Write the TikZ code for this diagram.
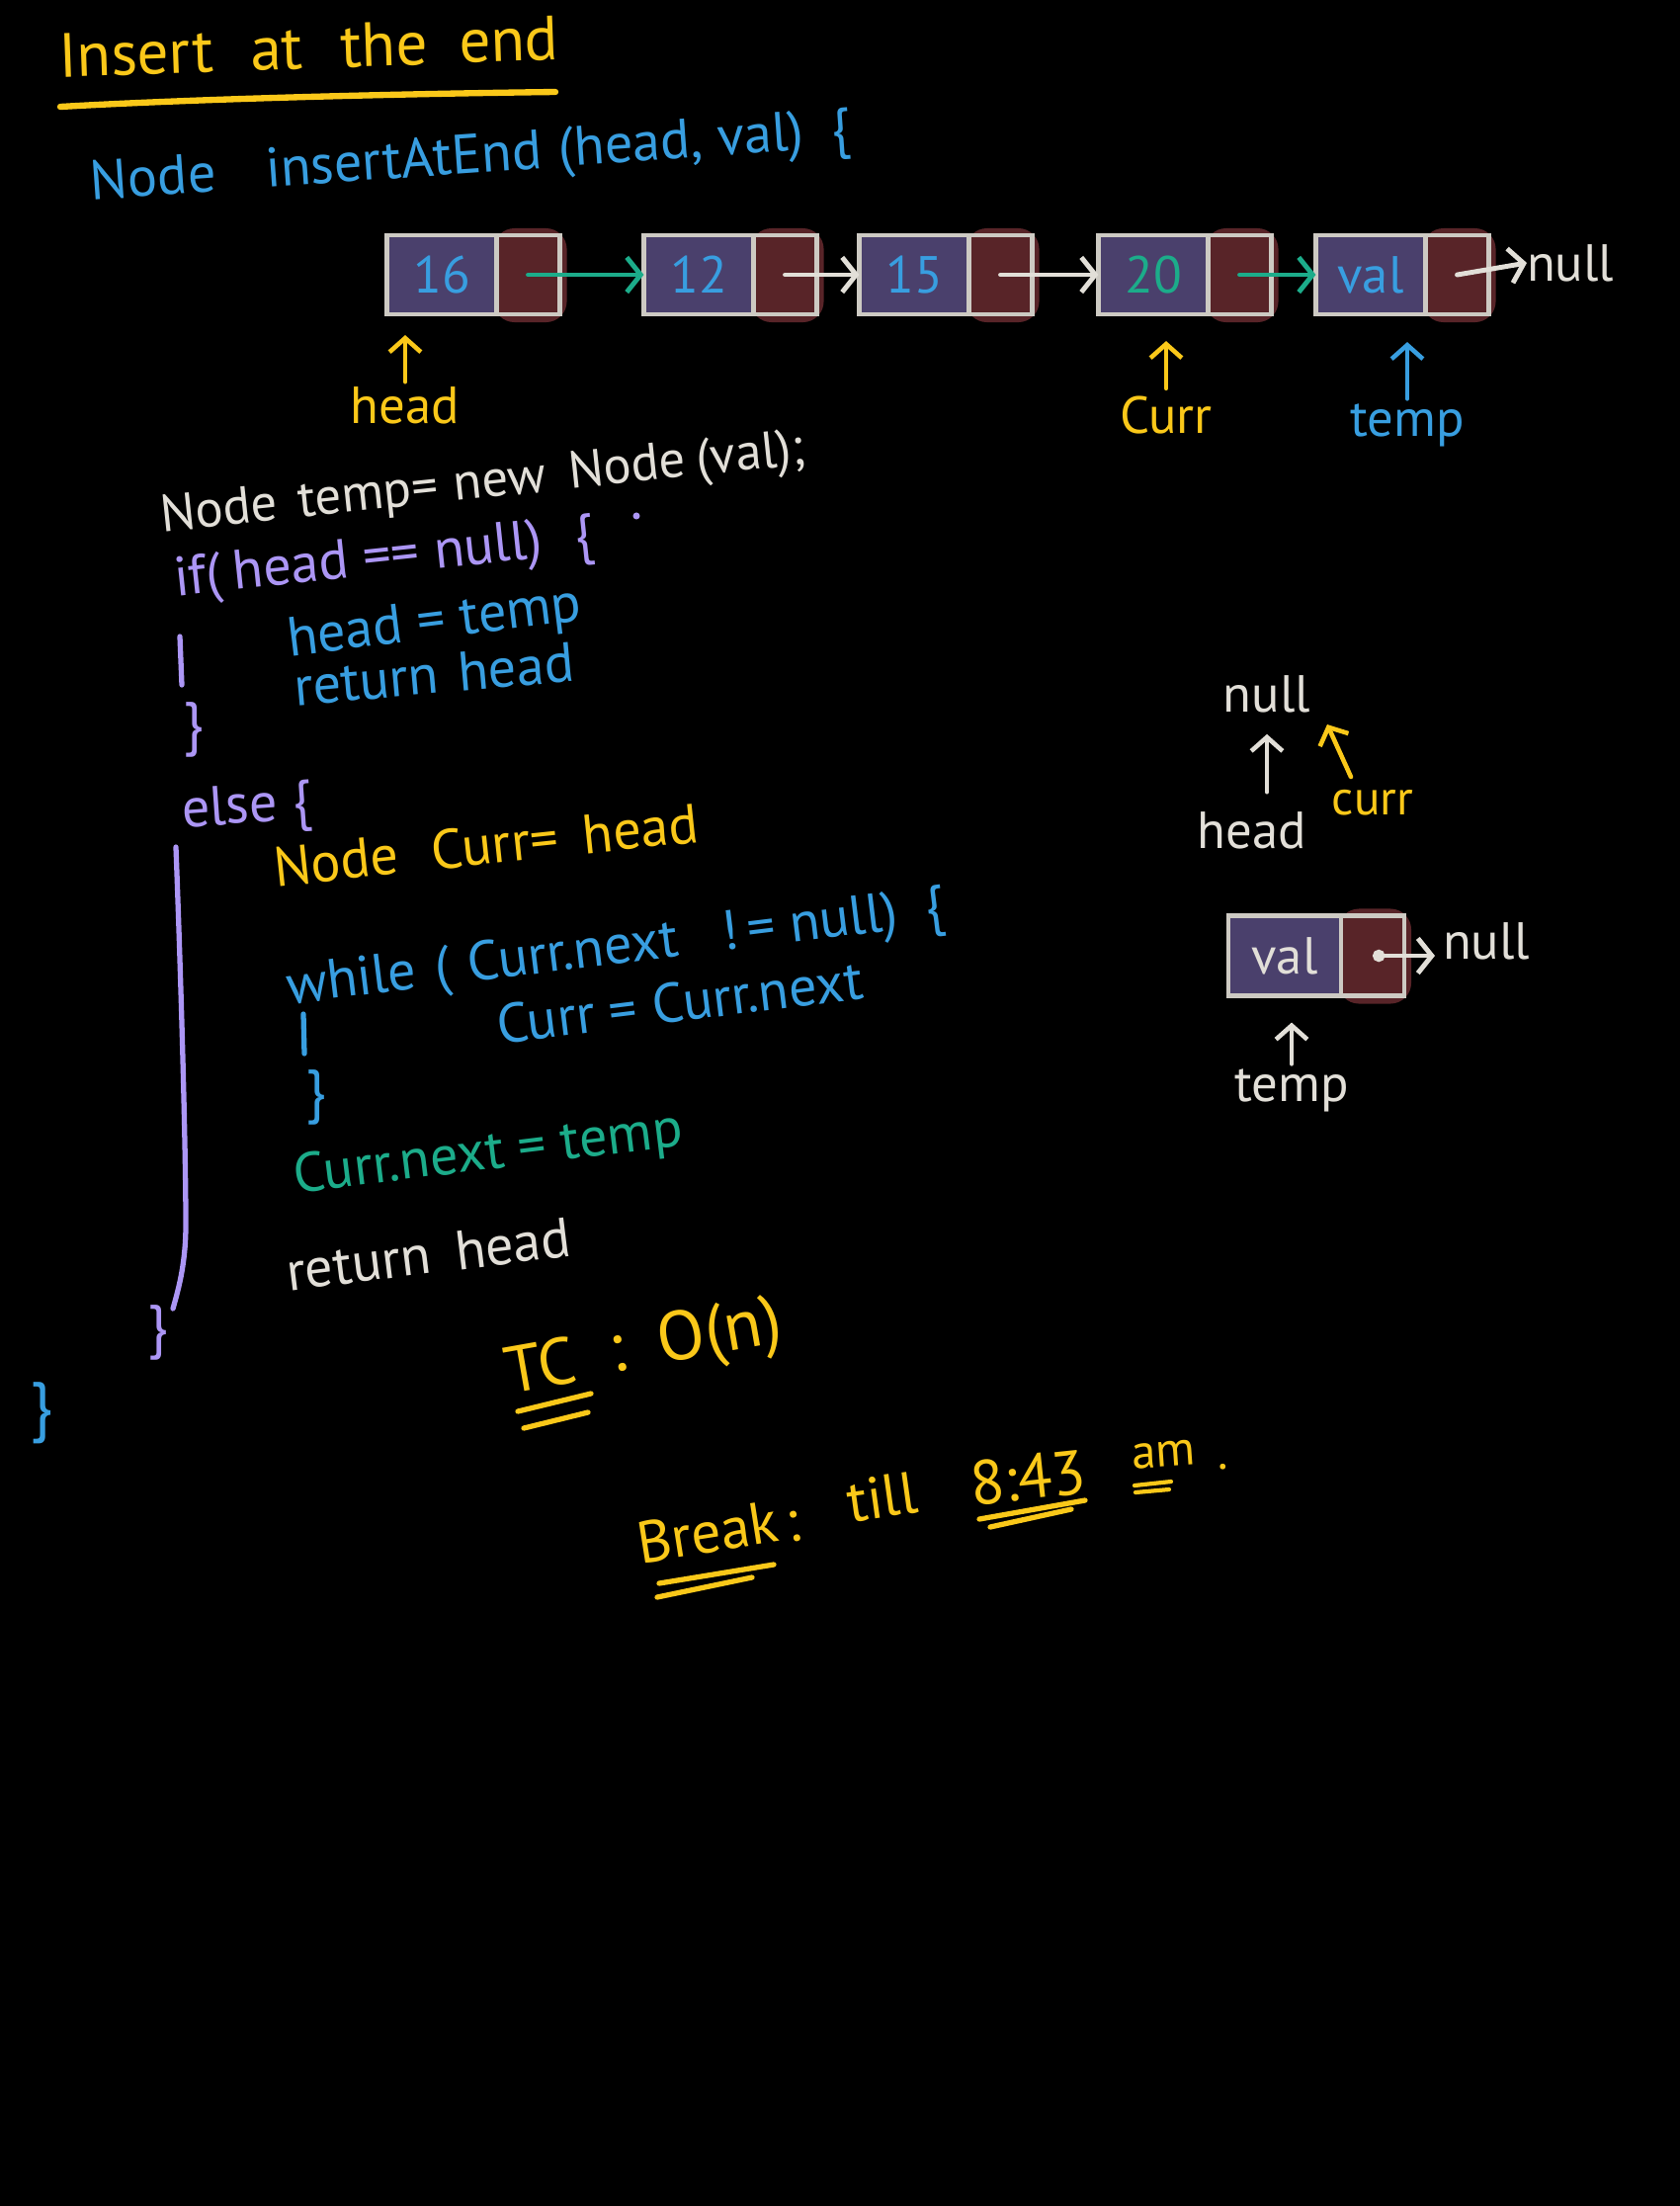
\documentclass[tikz,border=0pt]{standalone}
\usepackage{fontspec}
\setmainfont{PT Sans}
\usetikzlibrary{arrows.meta,calc,backgrounds}
\definecolor{hwyellow}{RGB}{250,200,25}
\definecolor{hwblue}{RGB}{56,158,224}
\definecolor{hwpurple}{RGB}{172,150,245}
\definecolor{hwgreen}{RGB}{28,172,138}
\definecolor{hwwhite}{RGB}{226,223,216}
\definecolor{valfill}{RGB}{74,64,108}
\definecolor{ptrfill}{RGB}{88,36,40}
\definecolor{boxline}{RGB}{205,202,195}
\tikzset{
  txt/.style={inner sep=0pt, outer sep=0pt},
  codeline/.style={txt, anchor=base west, font=\fontsize{16}{19}\selectfont},
  lbl/.style={txt, font=\fontsize{15}{18}\selectfont},
  brace/.style={txt, font=\fontsize{17}{20}\selectfont},
  valcell/.style={draw=boxline, line width=1.2pt, fill=valfill, minimum width=1.11cm, minimum height=0.8cm, inner sep=0pt, outer sep=0pt, font=\fontsize{15}{18}\selectfont},
  ptrcell/.style={draw=boxline, line width=1.2pt, fill=ptrfill, minimum width=0.64cm, minimum height=0.8cm, inner sep=0pt, outer sep=0pt, anchor=west},
  blob/.style={fill=ptrfill, rounded corners=6pt},
  link/.style={line width=1.4pt, line cap=round, -{Straight Barb[length=4pt,width=10pt]}},
  dotlink/.style={line width=1.4pt, line cap=round, {Circle[length=3.5pt]}-{Straight Barb[length=4pt,width=10pt]}},
  ptrarrow/.style={line width=1.3pt, line cap=round, -{Straight Barb[length=4pt,width=9pt]}},
  stroke/.style={line width=1.5pt, line cap=round, line join=round},
}
\begin{document}
\begin{tikzpicture}[x=0.01cm,y=-0.01cm]
\begin{scope}[on background layer]
\fill[black] (0,0) rectangle (1700,2232);
\end{scope}
\useasboundingbox (0,0) rectangle (1700,2232);

% title
\node[codeline, text=hwyellow, rotate=2, font=\fontsize{18}{21}\selectfont] (title) at (60,78) {Insert\hspace{0.6em}at\hspace{0.6em}the\hspace{0.5em}end};
\draw[stroke, hwyellow, line width=1.8pt] (61,108) .. controls (200,100) and (400,95) .. (562,93);

% signature
\node[codeline, text=hwblue, rotate=4] (sig) at (93,202) {Node\hspace{0.9em}insertAtEnd\hspace{0.3em}(head, val)\hspace{0.5em}\{};

% linked list
\node[valcell, text=hwblue] (v1) at (447,278) {16};
\node[ptrcell] (p1) at (v1.east) {};
\node[valcell, text=hwblue] (v2) at (707,278) {12};
\node[ptrcell] (p2) at (v2.east) {};
\node[valcell, text=hwblue] (v3) at (925,278) {15};
\node[ptrcell] (p3) at (v3.east) {};
\node[valcell, text=hwgreen] (v4) at (1167,278) {20};
\node[ptrcell] (p4) at (v4.east) {};
\node[valcell, text=hwblue] (v5) at (1387,278) {val};
\node[ptrcell] (p5) at (v5.east) {};
\node[lbl, text=hwwhite, anchor=west] (n1) at (1545,266) {null};
\begin{scope}[on background layer]
\foreach \p in {p1,p2,p3,p4,p5}{
  \fill[blob] ($(\p.north west)+(-3,-7)$) rectangle ($(\p.south east)+(7,8)$);
}
\end{scope}
\draw[link, hwgreen] (p1.center) -- (v2.west);
\draw[link, hwwhite] (p2.center) -- (v3.west);
\draw[link, hwwhite] (p3.center) -- (v4.west);
\draw[link, hwgreen] (p4.center) -- (v5.west);
\draw[link, hwwhite] (p5.center) -- (n1.west);

\node[lbl, text=hwyellow] (h1) at (410,410) {head};
\draw[ptrarrow, hwyellow, shorten >=0.21cm, shorten <=0.05cm] (h1.north) -- (h1.north |- v1.south);
\node[lbl, text=hwyellow] (c1) at (1180,420) {Curr};
\draw[ptrarrow, hwyellow, shorten >=0.27cm, shorten <=0.08cm] (c1.north) -- (c1.north |- v4.south);
\node[lbl, text=hwblue] (t1) at (1424,430) {temp};
\draw[ptrarrow, hwblue, shorten >=0.28cm, shorten <=0.05cm] (t1.north) -- (t1.north |- v5.south);

% code
\node[codeline, text=hwwhite, rotate=6, font=\fontsize{15}{18}\selectfont] (l2) at (164,538) {Node\hspace{0.4em}temp=\hspace{0.3em}new\hspace{0.45em}Node\hspace{0.2em}(val);};
\node[codeline, text=hwpurple, rotate=6] (l3) at (178,603) {if(\hspace{0.2em}head == null)\hspace{0.6em}\{};
\fill[hwpurple] (644,522) circle (1pt);
\node[codeline, text=hwblue, rotate=7] (l4) at (293,664) {head = temp};
\node[codeline, text=hwblue, rotate=5] (l5) at (299,714) {return\hspace{0.35em}head};
\draw[stroke, hwpurple] (182,644) -- (184,693);
\node[brace, text=hwpurple] (b1) at (196,738) {\}};
\node[codeline, text=hwpurple, rotate=4] (l6) at (185,837) {else \{};
\draw[stroke, hwpurple] (178,857) .. controls (182,960) and (188,1150) .. (188,1239) .. controls (188,1275) and (182,1300) .. (175,1324);
\node[codeline, text=hwyellow, rotate=6] (l7) at (279,897) {Node\hspace{0.6em}Curr=\hspace{0.45em}head};
\node[codeline, text=hwblue, rotate=7] (l8) at (292,1016) {while\hspace{0.35em}(\hspace{0.3em}Curr.next\hspace{0.8em}!\hspace{0.15em}= null)\hspace{0.5em}\{};
\draw[stroke, hwblue] (307,1026) -- (308,1066);
\node[codeline, text=hwblue, rotate=7] (l9) at (505,1056) {Curr = Curr.next};
\node[brace, text=hwblue] (b2) at (320,1110) {\}};
\node[codeline, text=hwgreen, rotate=7] (l10) at (299,1207) {Curr.next = temp};
\node[codeline, text=hwwhite, rotate=7] (l11) at (292,1306) {return\hspace{0.45em}head};
\node[brace, text=hwpurple] (b3) at (160,1348) {\}};
\node[brace, text=hwblue, font=\fontsize{19}{22}\selectfont] (b4) at (42,1430) {\}};

% complexity
\node[codeline, text=hwyellow, rotate=10, font=\fontsize{19}{22}\selectfont] (tc) at (515,1410) {TC};
\node[codeline, text=hwyellow, rotate=10, font=\fontsize{20}{23}\selectfont] (on) at (620,1388) {:\hspace{0.5em}O(n)};
\draw[stroke, hwyellow] (524,1428) -- (598,1410);
\draw[stroke, hwyellow] (530,1445) -- (595,1429);

% break
\node[codeline, text=hwyellow, rotate=9, font=\fontsize{17}{20}\selectfont] (brk) at (648,1582) {Break};
\node[codeline, text=hwyellow, rotate=9, font=\fontsize{17}{20}\selectfont] (brc) at (798,1560) {:};
\node[codeline, text=hwyellow, rotate=8, font=\fontsize{17}{20}\selectfont] (till) at (860,1540) {till};
\node[codeline, text=hwyellow, rotate=6, font=\fontsize{18}{21}\selectfont] (tm) at (984,1523) {8:43};
\node[codeline, text=hwyellow, rotate=4, font=\fontsize{14}{17}\selectfont] (am) at (1146,1486) {am};
\node[codeline, text=hwyellow, font=\fontsize{14}{17}\selectfont] (dot) at (1232,1486) {.};
\draw[stroke, hwyellow] (667,1602) -- (783,1583);
\draw[stroke, hwyellow] (665,1616) -- (761,1596);
\draw[stroke, hwyellow] (991,1537) -- (1098,1518);
\draw[stroke, hwyellow] (1002,1545) -- (1084,1527);
\draw[stroke, hwyellow, line width=1.2pt] (1148,1503) -- (1185,1499);
\draw[stroke, hwyellow, line width=1.2pt] (1149,1510) -- (1183,1507);

% right side sketch
\node[lbl, text=hwwhite] (n2) at (1282,702) {null};
\node[lbl, text=hwwhite] (h2) at (1267,840) {head};
\draw[ptrarrow, hwwhite, shorten >=0.22cm, shorten <=0.2cm] (h2.north -| n2.south) -- (n2.south);
\node[lbl, text=hwyellow, font=\fontsize{14}{17}\selectfont] (c2) at (1389,812) {curr};
\coordinate (ctail) at (1367,786);
\coordinate (ctip) at (1343,733);
\draw[ptrarrow, hwyellow] (ctail) -- (ctip);

\node[valcell, minimum width=1.14cm, minimum height=0.81cm, text=hwwhite] (sv) at (1300,967) {val};
\node[ptrcell, minimum height=0.81cm] (sp) at (sv.east) {};
\begin{scope}[on background layer]
\fill[blob] ($(sp.north west)+(-3,-7)$) rectangle ($(sp.south east)+(7,8)$);
\end{scope}
\node[lbl, text=hwwhite, anchor=west] (n3) at (1460,952) {null};
\draw[dotlink, hwwhite, shorten >=0.08cm] (sp.center) -- (sp.center -| n3.west);
\node[lbl, text=hwwhite] (t2) at (1307,1103) {temp};
\draw[ptrarrow, hwwhite, shorten >=0.27cm, shorten <=0.05cm] (t2.north) -- (t2.north |- sv.south);
\end{tikzpicture}
\end{document}
